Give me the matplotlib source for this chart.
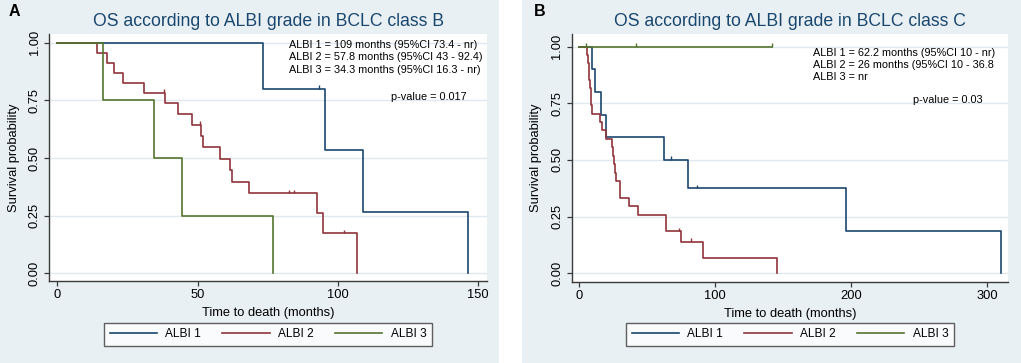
import matplotlib
matplotlib.use("Agg")
from matplotlib import pyplot as plt
from matplotlib.patches import Rectangle

plt.rcParams['font.family'] = ['Liberation Sans', 'DejaVu Sans']

# colours (Stata s2color)
navy = '#1a476f'
maroon = '#90353b'
green = '#55752f'
bg = '#e8f0f3'
grid_col = '#e0eaee'
axis_col = '#3a3a3a'

########### data, panel A (BCLC class B)
a_labels = ["ALBI 1", "ALBI 2", "ALBI 3"]
a1_t = [0, 73.4, 95.4, 109.0, 146.4]
a1_s = [1.0, 0.80, 0.533, 0.267, 0.0]
a2_t = [0, 14.2, 17.6, 20.2, 23.4, 31.0, 38.4, 43.1, 48.1, 51.3, 51.9, 57.9,
        61.4, 62.1, 68.4, 92.4, 94.5, 106.7]
a2_s = [1.0, 0.956, 0.913, 0.870, 0.826, 0.783, 0.739, 0.691, 0.643, 0.595,
        0.546, 0.497, 0.446, 0.397, 0.347, 0.260, 0.173, 0.0]
a3_t = [0, 16.2, 34.4, 44.5, 76.9]
a3_s = [1.0, 0.75, 0.50, 0.25, 0.0]
a1_cens_t = [93.3]
a1_cens_s = [0.80]
a2_cens_t = [38.1, 50.8, 82.6, 84.3, 102.1]
a2_cens_s = [0.783, 0.643, 0.347, 0.347, 0.173]
a3_cens_t = []
a3_cens_s = []
a_xticks = [0, 50, 100, 150]
a_notes = ["ALBI 1 = 109 months (95%CI 73.4 - nr)",
           "ALBI 2 = 57.8 months (95%CI 43 - 92.4)",
           "ALBI 3 = 34.3 months (95%CI 16.3 - nr)"]
a_pval = "p-value = 0.017"

########### data, panel B (BCLC class C)
b1_t = [0, 9.8, 11.8, 16.2, 19.8, 62.2, 80.3, 196.5, 309.8]
b1_s = [1.0, 0.90, 0.80, 0.70, 0.60, 0.50, 0.375, 0.1875, 0.0]
b2_t = [0, 6.1, 6.6, 7.1, 7.6, 8.1, 8.6, 9.1, 9.6, 15.4, 16.6, 19.8, 24.2,
        25.2, 26.0, 26.6, 27.3, 30.1, 36.7, 43.4, 64.2, 74.7, 91.4, 145.7]
b2_s = [1.0, 0.963, 0.926, 0.889, 0.852, 0.815, 0.778, 0.741, 0.704, 0.667,
        0.630, 0.593, 0.556, 0.519, 0.481, 0.444, 0.407, 0.333, 0.296, 0.259,
        0.185, 0.139, 0.069, 0.0]
b3_t = [0, 141.6]
b3_s = [1.0, 1.0]
b1_cens_t = [67.6, 86.5]
b1_cens_s = [0.50, 0.375]
b2_cens_t = [73.7, 82.5]
b2_cens_s = [0.185, 0.139]
b3_cens_t = [5.1, 41.9, 141.6]
b3_cens_s = [1.0, 1.0, 1.0]
b_xticks = [0, 100, 200, 300]
b_notes = ["ALBI 1 = 62.2 months (95%CI 10 - nr)",
           "ALBI 2 = 26 months (95%CI 10 - 36.8",
           "ALBI 3 = nr"]
b_pval = "p-value = 0.03"

yticks = [0, 0.25, 0.5, 0.75, 1.0]


def draw_panel(ax, curves, cens, xticks, xlim, ylim, notes, pval, note_x, note_y, p_xy):
    ax.set_facecolor('white')
    for y in yticks:
        ax.axhline(y, color=grid_col, lw=1.0, zorder=1)
    cols = [navy, maroon, green]
    for (t, s), c in zip(curves, cols):
        ax.step(t, s, where='post', color=c, lw=1.2, zorder=3)
    for (ct, cs), c in zip(cens, cols):
        if ct:
            ax.vlines(ct, cs, [v + 0.016 for v in cs], color=c, lw=1.0, zorder=3)
    ax.set_xlim(*xlim)
    ax.set_ylim(*ylim)
    ax.set_xticks(xticks)
    ax.set_yticks(yticks)
    ax.set_yticklabels(["%.2f" % v for v in yticks], rotation=90, va='center')
    for side in ['top', 'right']:
        ax.spines[side].set_visible(False)
    for side in ['left', 'bottom']:
        ax.spines[side].set_color(axis_col)
        ax.spines[side].set_linewidth(1.0)
    ax.tick_params(length=3.5, width=0.9, color=axis_col, labelsize=9.3, pad=2.5)
    ax.set_xlabel('Time to death (months)', fontsize=9.3)
    ax.set_ylabel('Survival probability', fontsize=9.3)
    ax.xaxis.set_label_coords(0.5, -0.105)
    ax.yaxis.set_label_coords(-0.067, 0.5)
    for txt, y in zip(notes, note_y):
        ax.text(note_x, y, txt, transform=ax.transAxes, fontsize=7.8, va='center', ha='left')
    ax.text(p_xy[0], p_xy[1], pval, transform=ax.transAxes, fontsize=7.8, va='center', ha='left')


fig = plt.figure(figsize=(10.21, 3.63), dpi=100)
fig.patch.set_facecolor('white')
fig.patches.append(Rectangle((0, 0), 499 / 1021, 1, transform=fig.transFigure,
                             facecolor=bg, edgecolor='none', zorder=-5))
fig.patches.append(Rectangle((522 / 1021, 0), 499 / 1021, 1, transform=fig.transFigure,
                             facecolor=bg, edgecolor='none', zorder=-5))

axA = fig.add_axes([49 / 1021, 82 / 363, 438 / 1021, 247 / 363])
axB = fig.add_axes([571.7 / 1021, 81.3 / 363, 436.3 / 1021, 247.4 / 363])

draw_panel(axA, [(a1_t, a1_s), (a2_t, a2_s), (a3_t, a3_s)],
           [(a1_cens_t, a1_cens_s), (a2_cens_t, a2_cens_s), (a3_cens_t, a3_cens_s)],
           a_xticks, (-2.96, 153.1), (-0.033, 1.037), a_notes, a_pval,
           0.549, [0.955, 0.906, 0.855], (0.781, 0.746))
draw_panel(axB, [(b1_t, b1_s), (b2_t, b2_s), (b3_t, b3_s)],
           [(b1_cens_t, b1_cens_s), (b2_cens_t, b2_cens_s), (b3_cens_t, b3_cens_s)],
           b_xticks, (-5.4, 315.2), (-0.037, 1.054), b_notes, b_pval,
           0.554, [0.926, 0.876, 0.826], (0.782, 0.734))

fig.text(268 / 1021, 1 - 21.5 / 363, 'OS according to ALBI grade in BCLC class B',
         color=navy, fontsize=12.7, ha='center', va='center')
fig.text(790 / 1021, 1 - 21.5 / 363, 'OS according to ALBI grade in BCLC class C',
         color=navy, fontsize=12.7, ha='center', va='center')
fig.text(9 / 1021, 1 - 11 / 363, 'A', fontsize=11.5, fontweight='bold', ha='left', va='center')
fig.text(534 / 1021, 1 - 11 / 363, 'B', fontsize=11.5, fontweight='bold', ha='left', va='center')

# legends
for ax, cx in [(axA, 268 / 1021), (axB, 790 / 1021)]:
    handles = ax.get_lines()
    curve_lines = [l for l in handles if l.get_drawstyle().startswith('steps')]
    leg = fig.legend(curve_lines, a_labels, loc='center', bbox_to_anchor=(cx, 1 - 334.3 / 363),
                     ncol=3, fontsize=8.6, frameon=True, fancybox=False,
                     handlelength=3.95, handletextpad=0.7, columnspacing=1.8,
                     borderpad=0.45, borderaxespad=0)
    leg.get_frame().set_edgecolor(axis_col)
    leg.get_frame().set_linewidth(1.0)
    leg.get_frame().set_facecolor('white')

fig.savefig('out.png', dpi=100)
